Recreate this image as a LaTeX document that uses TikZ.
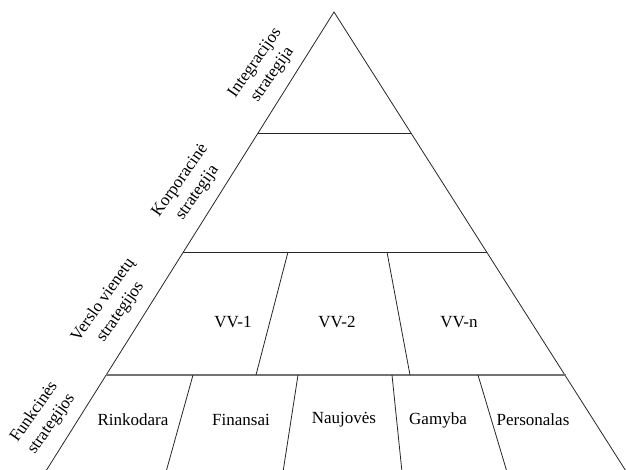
\documentclass[tikz,border=0pt]{standalone}
\usepackage{fontspec}
\setmainfont{Liberation Serif}
\begin{document}
\begin{tikzpicture}[x=1pt,y=-1pt,
  edge/.style={draw=black!85, line width=0.8pt},
  base/.style={draw=black!55, line width=1.3pt},
  lbl/.style={font=\fontsize{17}{19}\selectfont, inner sep=0pt},
  side/.style={font=\fontsize{17}{21}\selectfont, align=center, rotate=55, inner sep=0pt}]
\useasboundingbox (0,0) rectangle (626,470);
\clip (0,0) rectangle (626,470);
% outline
\coordinate (apex) at (334,12);
\coordinate (bl) at (34,490);
\coordinate (br) at (638,490);
\coordinate (l1) at (258,133); \coordinate (r1) at (411,133);
\coordinate (l2) at (183,252); \coordinate (r2) at (487,252);
\coordinate (l3) at (106,375); \coordinate (r3) at (566,375);
\draw[edge] (bl) -- (apex) -- (br);
\draw[edge] (l1) -- (r1);
\draw[edge] (l2) -- (r2);
\draw[base] (l3) -- (r3);
% VV dividers
\coordinate (v1t) at (288,252); \coordinate (v1b) at (256,375);
\coordinate (v2t) at (387,252); \coordinate (v2b) at (410,375);
\draw[edge] (v1t) -- (v1b);
\draw[edge] (v2t) -- (v2b);
% bottom dividers
\coordinate (f1t) at (193,375); \coordinate (f1b) at (166,472);
\coordinate (f2t) at (298,375); \coordinate (f2b) at (283,472);
\coordinate (f3t) at (392,375); \coordinate (f3b) at (402,472);
\coordinate (f4t) at (478,375); \coordinate (f4b) at (507,472);
\draw[edge] (f1t) -- (f1b);
\draw[edge] (f2t) -- (f2b);
\draw[edge] (f3t) -- (f3b);
\draw[edge] (f4t) -- (f4b);
% labels
\node[lbl] (vv1) at (233,322) {VV-1};
\node[lbl] (vv2) at (337,322) {VV-2};
\node[lbl] (vvn) at (459,322) {VV-n};
\node[lbl] (rin) at (133,420) {Rinkodara};
\node[lbl] (fin) at (241,420) {Finansai};
\node[lbl] (nau) at (344,420) {Naujovės};
\node[lbl] (gam) at (438,420) {Gamyba};
\node[lbl] (per) at (533,420) {Personalas};
% side labels
\node[side] (int) at (264,69) {Integracijos\\strategija};
\node[side] (kor) at (189,187) {Korporacinė\\strategija};
\node[side] (ver) at (112,306) {Verslo vienetų\\strategijos};
\node[side] (fun) at (43,418) {Funkcinės\\strategijos};
\end{tikzpicture}
\end{document}
